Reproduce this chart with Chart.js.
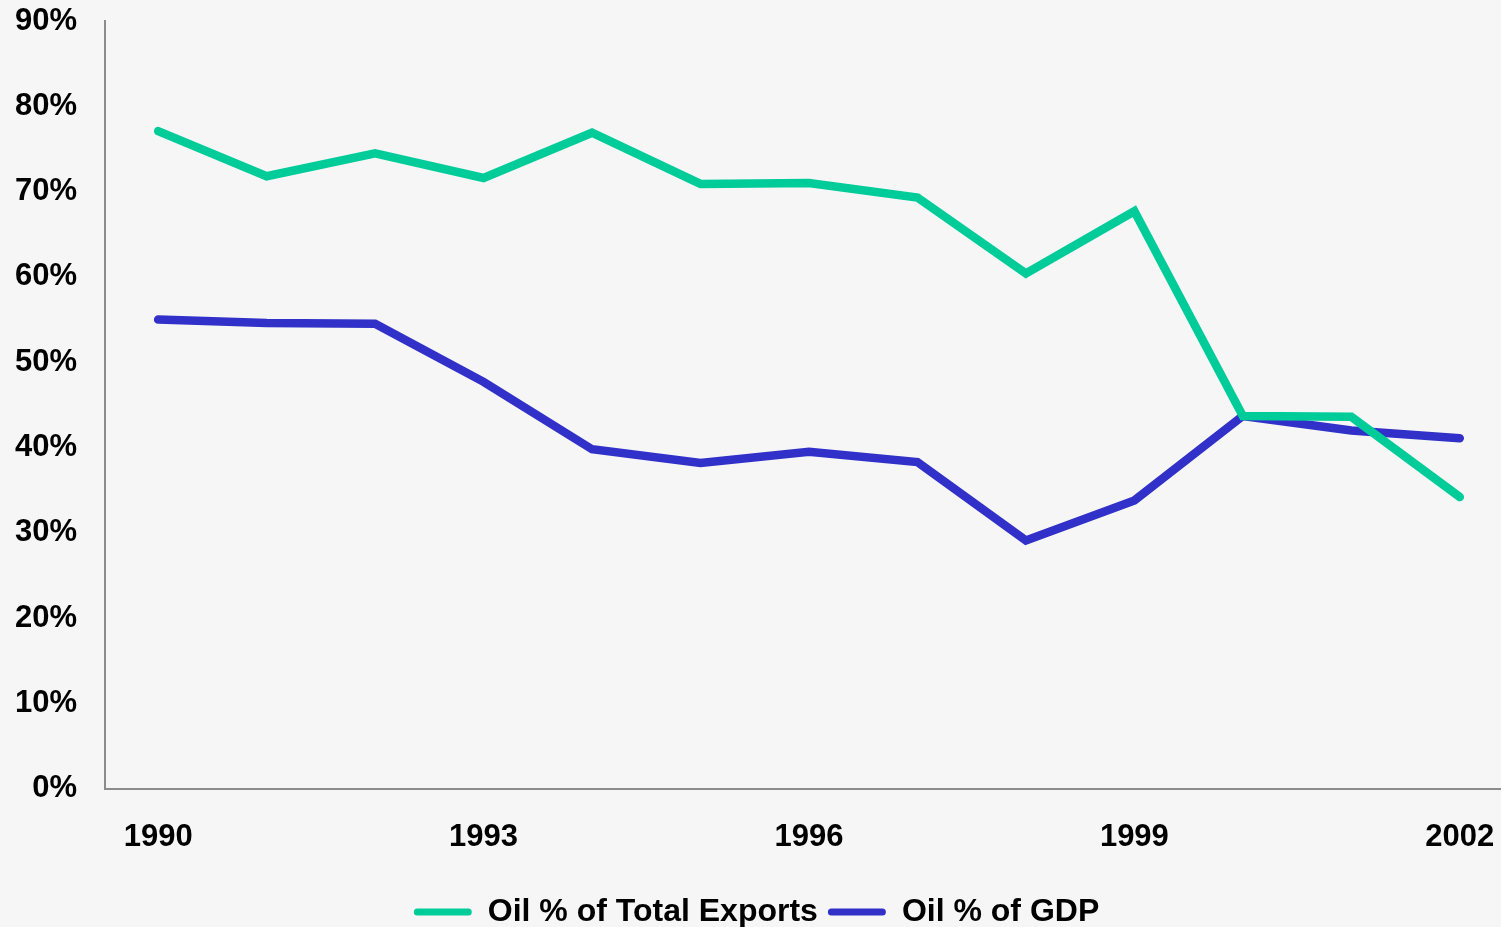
<!DOCTYPE html>
<html>
<head>
<meta charset="utf-8">
<script src="https://cdn.jsdelivr.net/npm/chart.js@4"></script>
<style>
  html, body { margin: 0; padding: 0; background: #f6f6f6; overflow: hidden; }
  #wrap { width: 1501px; height: 927px; position: relative; }
</style>
</head>
<body>
<div id="wrap"><canvas id="oilChart"></canvas></div>
<script>
// data
const years = [1990, 1991, 1992, 1993, 1994, 1995, 1996, 1997, 1998, 1999, 2000, 2001, 2002];
const oilExports = [77.1, 71.8, 74.5, 71.6, 76.9, 70.9, 71.0, 69.3, 60.4, 67.7, 43.7, 43.6, 34.2];
const oilGdp = [55.0, 54.6, 54.5, 47.7, 39.8, 38.2, 39.5, 38.3, 29.1, 33.8, 43.7, 42.0, 41.1];
const xTicks = [1990, 1993, 1996, 1999, 2002];
const yTicks = [0, 10, 20, 30, 40, 50, 60, 70, 80, 90];

const green = '#00cc99';
const blue = '#3131c9';
const axisGray = '#8c8c8c';
const fontFam = 'Liberation Sans, Arial';

function pts(vals) {
    return years.map((y, i) => ({ x: y, y: vals[i] }));
}

const ctx = document.getElementById('oilChart').getContext('2d');
new Chart(ctx, {
    type: 'line',
    data: {
        datasets: [{
            label: 'Oil % of Total Exports',
            data: pts(oilExports),
            borderColor: green,
            backgroundColor: green,
            borderWidth: 8.5,
            borderCapStyle: 'round',
            borderJoinStyle: 'miter',
            pointRadius: 0,
            tension: 0
        }, {
            label: 'Oil % of GDP',
            data: pts(oilGdp),
            borderColor: blue,
            backgroundColor: blue,
            borderWidth: 8.5,
            borderCapStyle: 'round',
            borderJoinStyle: 'miter',
            pointRadius: 0,
            tension: 0
        }]
    },
    options: {
        responsive: true,
        maintainAspectRatio: false,
        animation: false,
        layout: { padding: { top: 21, left: 12, right: 0, bottom: -11 } },
        plugins: {
            tooltip: { enabled: false },
            legend: {
                display: true,
                position: 'bottom',
                labels: {
                    color: '#000',
                    font: { family: fontFam, size: 32, weight: 'bold' },
                    boxWidth: 58,
                    boxHeight: 7,
                    padding: 10,
                    generateLabels: chart => {
                        const items = Chart.defaults.plugins.legend.labels.generateLabels(chart);
                        items.forEach(it => { it.lineWidth = 0; it.borderRadius = 3.5; });
                        return items;
                    }
                }
            }
        },
        scales: {
            x: {
                type: 'linear',
                min: 1989.51,
                max: 2002.38,
                afterBuildTicks: axis => { axis.ticks = xTicks.map(v => ({ value: v })); },
                afterFit: s => { s.paddingRight = 0; s.paddingLeft = 0; },
                grid: { display: false, drawTicks: false },
                border: { display: true, color: axisGray, width: 2 },
                ticks: {
                    color: '#000',
                    padding: 30,
                    maxRotation: 0,
                    font: { family: fontFam, size: 31, weight: 'bold' },
                    callback: v => String(v)
                }
            },
            y: {
                min: 0,
                max: 90,
                afterBuildTicks: axis => { axis.ticks = yTicks.map(v => ({ value: v })); },
                afterFit: s => { s.paddingTop = 0; s.paddingBottom = 0; s.width = 93; },
                grid: { display: false, drawOnChartArea: false, drawTicks: true, tickLength: 4, color: axisGray },
                border: { display: true, color: axisGray, width: 2 },
                ticks: {
                    color: '#000',
                    padding: 24,
                    font: { family: fontFam, size: 31, weight: 'bold' },
                    callback: v => v + '%'
                }
            }
        }
    }
});
</script>
</body>
</html>
